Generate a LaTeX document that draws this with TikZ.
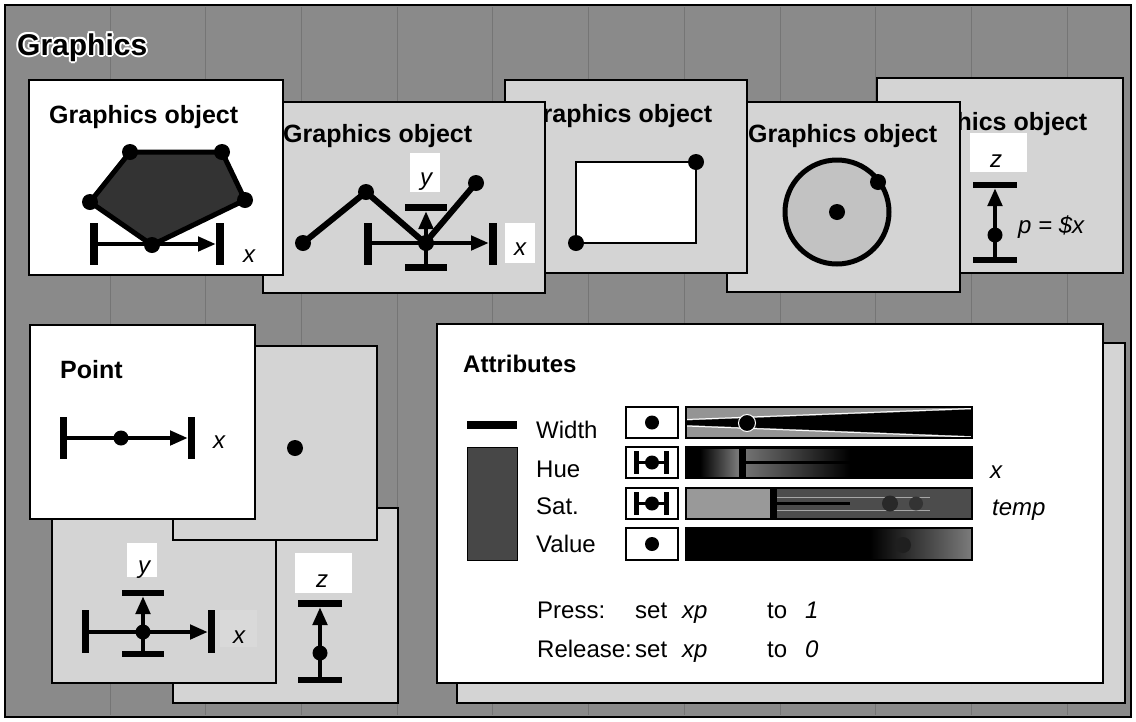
\documentclass[tikz,border=0pt]{standalone}
\usepackage{fontspec}
\setmainfont{Liberation Sans}
\usetikzlibrary{arrows.meta}

\begin{document}
\begin{tikzpicture}[x=1pt,y=-1pt,
  panelbg/.style={fill=black!17, draw=black, line width=2.5pt},
  panelfg/.style={fill=white, draw=black, line width=2.5pt},
  tag/.style={fill=white, inner sep=0pt},
  ttl/.style={font=\fontsize{25}{30}\selectfont\bfseries, anchor=base west, inner sep=0pt},
  lbl/.style={font=\fontsize{24}{28}\selectfont, anchor=base west, inner sep=0pt},
  var/.style={font=\fontsize{24}{28}\selectfont\itshape, anchor=base, inner sep=0pt},
  bar/.style={fill=black},
  axis/.style={line width=4.5pt, -{Triangle[length=18pt,width=14pt]}},
  stem/.style={line width=4.5pt},
  dot/.style={fill=black},
  rim/.style={draw=black, line width=1.5pt},
  iconbox/.style={fill=white, draw=black, line width=2pt},
  gridline/.style={draw=black!54, line width=0.7pt}
]
\useasboundingbox (0,0) rectangle (1136,721);

% ---------- page, background and frame ----------
\fill[white] (0,0) rectangle (1136,721);
\fill[black!46] (5,5) rectangle (1131,717);
\foreach \k in {0,...,10}
  \draw[gridline] ({110+95.7*\k},7) -- ({110+95.7*\k},715);
\draw[line width=2pt] (5,5) rectangle (1131,717);

% title with white halo
\foreach \a [count=\i] in {0,45,...,315}
  \node[ttl, font=\fontsize{30}{36}\selectfont\bfseries, text=white] (halo\i)
    at ({17+2*cos(\a)},{55+2*sin(\a)}) {Graphics};
\node[ttl, font=\fontsize{30}{36}\selectfont\bfseries] (title) at (17,55) {Graphics};

% ---------- top row of graphics objects (back to front) ----------
% object 5: vertical axis
\draw[panelbg] (877,78) rectangle (1123,273);
\node[ttl] (t5) at (898,130) {Graphics object};
\node[tag, minimum width=57pt, minimum height=39pt] (zbox5) at (998.5,152.5) {};
\node[var] (z5) at (996,167) {z};
\fill[bar] (973,182) rectangle (1017,188);
\fill[bar] (973,257) rectangle (1017,263);
\coordinate (c5) at (995,235);
\draw[stem] (995,257) -- (c5);
\draw[axis] (c5) -- (995,188);
\fill[dot] (c5) circle[radius=7.5pt];
\node[lbl, font=\fontsize{24}{28}\selectfont\itshape] (p5) at (1018,233) {p = \$x};

% object 4: circle
\draw[panelbg] (727,102) rectangle (960,292);
\node[ttl] (t4) at (748,142) {Graphics object};
\coordinate (c4) at (837,212);
\draw[fill=black!24, line width=5pt] (c4) circle[radius=52pt];
\fill[dot] (c4) circle[radius=8pt];
\fill[dot] (878,182) circle[radius=8pt];

% object 3: rectangle
\draw[panelbg] (505,80) rectangle (747,273);
\node[ttl] (t3) at (523,122) {Graphics object};
\draw[fill=white, line width=2.5pt] (576,162) rectangle (696,243);
\fill[dot] (576,243) circle[radius=8pt];
\fill[dot] (696,162) circle[radius=8pt];

% object 2: polyline with a 2-D point
\draw[panelbg] (263,102) rectangle (545,293);
\node[ttl] (t2) at (283,142) {Graphics object};
\node[tag, minimum width=30pt, minimum height=39pt] (ybox2) at (425,172.5) {};
\node[var] (y2) at (426,185) {y};
\node[tag, minimum width=30pt, minimum height=40pt] (xbox2) at (520,243) {};
\node[var] (x2) at (520,255) {x};
\draw[line width=6pt, line join=round] (303,243) -- (366,192) -- (425,243) -- (476,183);
\foreach \p in {(303,243),(366,192),(476,183)} \fill[dot] \p circle[radius=8pt];
\fill[bar] (364,223) rectangle (372,265);
\fill[bar] (489,223) rectangle (497,265);
\fill[bar] (405,204) rectangle (447,211);
\fill[bar] (405,264) rectangle (447,271);
\coordinate (c2) at (426,243);
\draw[axis] (372,243) -- (489,243);
\draw[stem] (c2) -- (426,264);
\draw[axis] (c2) -- (426,211);
\fill[dot] (c2) circle[radius=8pt];

% object 1: filled polygon (active)
\draw[panelfg] (29,80) rectangle (283,275);
\node[ttl] (t1) at (49,123) {Graphics object};
\draw[fill=black!80, line width=5pt, line join=round]
  (130,152) -- (222,152) -- (245,200) -- (152,245) -- (90,202) -- cycle;
\fill[bar] (90,223) rectangle (98,265);
\fill[bar] (216,223) rectangle (224,265);
\draw[axis] (98,244) -- (216,244);
\foreach \p in {(130,152),(222,152),(245,200),(152,245),(90,202)}
  \fill[dot] \p circle[radius=8pt];
\node[var] (x1) at (249,262) {x};

% ---------- point views (back to front) ----------
% z axis
\draw[panelbg] (173,508) rectangle (398,703);
\node[tag, minimum width=57pt, minimum height=40pt] (zbox) at (323.5,573) {};
\node[var] (zl) at (322,587) {z};
\fill[bar] (298,600) rectangle (342,607);
\fill[bar] (298,677) rectangle (342,683);
\coordinate (cz) at (320,653);
\draw[stem] (cz) -- (320,677);
\draw[axis] (cz) -- (320,607);
\fill[dot] (cz) circle[radius=7.5pt];

% x-y axes
\draw[panelbg] (52,519) rectangle (276,683);
\node[tag, minimum width=30pt, minimum height=34pt] (ybox) at (142,560) {};
\node[var] (yl) at (144,573) {y};
\node[tag, fill=white!85!black, minimum width=37pt, minimum height=37pt] (xbox) at (238.5,628.5) {};
\node[var] (xl) at (239,643) {x};
\fill[bar] (82,610) rectangle (89,653);
\fill[bar] (208,610) rectangle (215,653);
\fill[bar] (122,590) rectangle (164,596);
\fill[bar] (122,651) rectangle (164,657);
\coordinate (cxy) at (143,632);
\draw[axis] (89,632) -- (208,632);
\draw[stem] (cxy) -- (143,651);
\draw[axis] (cxy) -- (143,596);
\fill[dot] (cxy) circle[radius=7.5pt];

% plain point
\draw[panelbg] (173,346) rectangle (377,540);
\fill[dot] (295,448) circle[radius=8pt];

% Point (active)
\draw[panelfg] (30,325) rectangle (255,519);
\node[ttl] (tp) at (60,378) {Point};
\fill[bar] (60,417) rectangle (67,459);
\fill[bar] (188,417) rectangle (195,459);
\draw[axis] (67,438) -- (188,438);
\fill[dot] (121,438) circle[radius=7.5pt];
\node[var] (xp) at (219,448) {x};

% ---------- attributes ----------
\draw[panelbg] (457,343) rectangle (1125,703);
\draw[panelfg] (437,324) rectangle (1103,683);
\node[ttl, font=\fontsize{24}{29}\selectfont\bfseries] (ta) at (463,372) {Attributes};

% samples
\fill[black] (467,421) rectangle (517,429);
\draw[fill=black!72, draw=black, line width=1pt] (467,447) rectangle (517,560);

% row names
\node[lbl] (lw) at (536,438) {Width};
\node[lbl] (lh) at (536,477) {Hue};
\node[lbl] (ls) at (536,514) {Sat.};
\node[lbl] (lv) at (536,552) {Value};

% icons
\draw[iconbox] (626,407) rectangle (678,438);
\fill[dot] (652,422.5) circle[radius=7pt];
\draw[iconbox] (626,447) rectangle (678,478);
\fill[bar] (634,451) rectangle (639,474);
\fill[bar] (664,451) rectangle (669,474);
\draw[line width=2.5pt] (639,462.5) -- (664,462.5);
\fill[dot] (652,462.5) circle[radius=7pt];
\draw[iconbox] (626,488) rectangle (678,519);
\fill[bar] (634,492) rectangle (639,515);
\fill[bar] (664,492) rectangle (669,515);
\draw[line width=2.5pt] (639,503.5) -- (664,503.5);
\fill[dot] (652,503.5) circle[radius=7pt];
\draw[iconbox] (626,528) rectangle (678,560);
\fill[dot] (652,544) circle[radius=7pt];

% width slider
\fill[black!42] (686,407) rectangle (972,438);
\fill[black] (686,420.5) -- (971,409.5) -- (971,436) -- (686,425) -- cycle;
\draw[white, line width=1pt] (686,419.5) -- (971,408.5);
\draw[white, line width=1pt] (686,426) -- (971,437);
\draw[white, line width=1pt, fill=black] (747,423) circle[radius=8.5pt];
\draw[rim] (686,407) rectangle (972,438);

% hue slider
\fill[black] (686,447) rectangle (972,478);
\shade[left color=black, right color=black!50] (700,449) rectangle (740,476);
\shade[left color=black!55, right color=black] (745,449) rectangle (850,476);
\draw[line width=3pt] (745,462.5) -- (850,462.5);
\fill[black] (739,447) rectangle (746,478);
\draw[rim] (686,447) rectangle (972,478);

% saturation slider
\fill[black!70] (686,488) rectangle (972,519);
\fill[black!40] (686,488) rectangle (770,519);
\draw[white!65!black, line width=1pt] (777,497) -- (930,497);
\draw[white!65!black, line width=1pt] (777,510) -- (930,510);
\draw[line width=2.5pt] (777,503.5) -- (850,503.5);
\fill[black!84] (890,503.5) circle[radius=8pt];
\fill[black!80] (916,503.5) circle[radius=7pt];
\fill[black] (770,488) rectangle (777,519);
\draw[rim] (686,488) rectangle (972,519);

% value slider
\fill[black] (686,528) rectangle (972,560);
\shade[left color=black, right color=black!52] (870,529) rectangle (971,559);
\fill[black!88] (903,545) circle[radius=8pt];
\draw[rim] (686,528) rectangle (972,560);

% bound variables
\node[lbl, font=\fontsize{24}{28}\selectfont\itshape] (vx) at (990,478) {x};
\node[lbl, font=\fontsize{24}{28}\selectfont\itshape] (vt) at (992,515) {temp};

% event bindings
\node[lbl] (pr) at (537,618) {Press:};
\node[lbl] (ps) at (635,618) {set};
\node[lbl, font=\fontsize{24}{28}\selectfont\itshape] (px) at (682,618) {xp};
\node[lbl] (pt) at (767,618) {to};
\node[lbl, font=\fontsize{24}{28}\selectfont\itshape] (pv) at (805,618) {1};
\node[lbl] (rr) at (537,657) {Release:};
\node[lbl] (rs) at (635,657) {set};
\node[lbl, font=\fontsize{24}{28}\selectfont\itshape] (rx) at (682,657) {xp};
\node[lbl] (rt) at (767,657) {to};
\node[lbl, font=\fontsize{24}{28}\selectfont\itshape] (rv) at (805,657) {0};
\end{tikzpicture}
\end{document}
